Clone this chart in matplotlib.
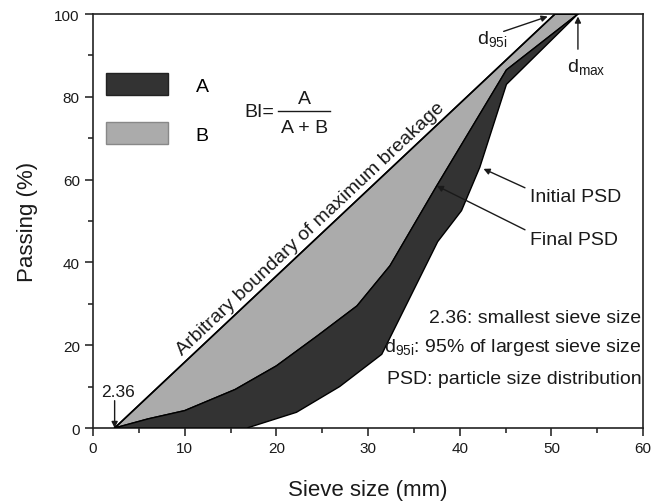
import matplotlib
matplotlib.use('Agg')
import matplotlib.pyplot as plt
import numpy as np
from matplotlib import ticker
from matplotlib.patches import Patch

plt.rcParams['font.family'] = ['Liberation Sans', 'DejaVu Sans']
plt.rcParams['mathtext.default'] = 'regular'

DARK = '#333333'
LIGHT = '#ababab'
TEXT = '#1a1a1a'

# boundary of maximum breakage (straight line)
boundary_x = [2.36, 50.4]
boundary_y = [0, 100]
d_max = 52.9

# final PSD (light / dark border)
final_x = [2.36, 6, 10, 15.5, 20, 24.5, 28.8, 32.4, 37.5, 45.1, 52.9]
final_y = [0, 2.2, 4.2, 9.3, 15, 22.3, 29.5, 39.2, 58.5, 86.5, 100]

# initial PSD (right edge of dark area)
initial_x = [2.36, 16.8, 22.2, 26.9, 31.5, 37.6, 40.2, 42.2, 45.1, 52.9]
initial_y = [0, 0, 3.8, 10.0, 17.8, 45.0, 52.5, 63.0, 83.0, 100]

fig = plt.figure(figsize=(6.54, 5.02), dpi=100)
ax = fig.add_axes([0.1422, 0.1454, 0.841, 0.8247])
ax.set_xlim(0, 60)
ax.set_ylim(0, 100)

# area B: between boundary and final PSD
bx = list(boundary_x) + [d_max] + final_x[::-1]
by = list(boundary_y) + [100] + final_y[::-1]
ax.fill(bx, by, facecolor=LIGHT, edgecolor='black', linewidth=1.0, zorder=2)

# area A: between final and initial PSD
ax_ = final_x + initial_x[::-1]
ay_ = final_y + initial_y[::-1]
ax.fill(ax_, ay_, facecolor=DARK, edgecolor='black', linewidth=1.0, zorder=3)

ax.plot(boundary_x + [d_max], boundary_y + [100], color='black', lw=1.2, zorder=4)

# legend boxes
handles = [Patch(facecolor=DARK, edgecolor='#222222', label='A'),
           Patch(facecolor=LIGHT, edgecolor='#888888', label='B')]
ax.legend(handles=handles, loc='upper left', bbox_to_anchor=(0.01, 0.876),
          frameon=False, fontsize=14, handlelength=3.2, handleheight=1.35,
          labelspacing=1.4, handletextpad=1.4, borderaxespad=0)

# BI formula
ax.text(16.5, 76.4, 'BI=', fontsize=14, ha='left', va='center', color=TEXT)
ax.text(23.1, 79.6, 'A', fontsize=14, ha='center', va='center', color=TEXT)
ax.plot([20.2, 25.9], [76.6, 76.6], color=TEXT, lw=1.0)
ax.text(23.1, 72.6, 'A + B', fontsize=14, ha='center', va='center', color=TEXT)

# rotated label on boundary line
fig.canvas.draw()
p0 = ax.transData.transform((boundary_x[0], boundary_y[0]))
p1 = ax.transData.transform((boundary_x[1], boundary_y[1]))
ang = np.degrees(np.arctan2(p1[1] - p0[1], p1[0] - p0[0]))
xm = 24.6
ym = np.interp(xm, boundary_x, boundary_y)
nx, ny = -np.sin(np.radians(ang)) * 5, np.cos(np.radians(ang)) * 5
ax.annotate('Arbitrary boundary of maximum breakage', xy=(xm, ym),
            xytext=(nx, ny), textcoords='offset points', fontsize=14,
            rotation=ang, rotation_mode='anchor', ha='center', va='baseline',
            color=TEXT)

arrow = dict(arrowstyle='-|>', color=TEXT, lw=1.0, mutation_scale=9,
             shrinkA=0, shrinkB=0)

# 2.36 marker
ax.annotate('', xy=(2.36, 0), xytext=(2.36, 6.6), arrowprops=arrow)
ax.text(2.7, 8.9, '2.36', fontsize=12.5, ha='center', va='center', color=TEXT)

# d95i
ax.annotate('', xy=(49.6, 99.4), xytext=(44.8, 95.8), arrowprops=arrow)
ax.text(41.9, 94.2, 'd$_{95i}$', fontsize=14, ha='left', va='center',
        color=TEXT)

# dmax
ax.annotate('', xy=(d_max, 99.4), xytext=(d_max, 91.5), arrowprops=arrow)
ax.text(51.7, 87.4, 'd$_{max}$', fontsize=14, ha='left', va='center',
        color=TEXT)

# PSD labels
arrow2 = dict(arrow, relpos=(0.0, 0.9), shrinkA=2)
ax.annotate('Initial PSD', xy=(42.6, 62.6), xytext=(47.7, 55.8),
            fontsize=14, ha='left', va='center', color=TEXT, arrowprops=arrow2)
ax.annotate('Final PSD', xy=(37.5, 58.5), xytext=(47.7, 45.6),
            fontsize=14, ha='left', va='center', color=TEXT, arrowprops=arrow2)

# notes
ax.text(59.8, 26.8, '2.36: smallest sieve size', fontsize=14, ha='right',
        va='center', color=TEXT)
ax.text(59.8, 19.6, 'd$_{95i}$: 95% of largest sieve size', fontsize=14,
        ha='right', va='center', color=TEXT)
ax.text(59.8, 12.0, 'PSD: particle size distribution', fontsize=14,
        ha='right', va='center', color=TEXT)

ax.set_xlabel('Sieve size (mm)', fontsize=16, labelpad=17, color=TEXT)
ax.set_ylabel('Passing (%)', fontsize=16, labelpad=12, color=TEXT)

ax.xaxis.set_major_locator(ticker.MultipleLocator(10))
ax.xaxis.set_minor_locator(ticker.MultipleLocator(5))
ax.yaxis.set_major_locator(ticker.MultipleLocator(20))
ax.yaxis.set_minor_locator(ticker.MultipleLocator(10))
ax.tick_params(which='both', direction='out', top=False, right=False,
               width=1.1, colors=TEXT, labelsize=11)
ax.tick_params(which='major', length=6)
ax.tick_params(which='minor', length=3.5)
for s in ax.spines.values():
    s.set_linewidth(1.2)
    s.set_color('#222222')

fig.savefig('out.png', dpi=100)
